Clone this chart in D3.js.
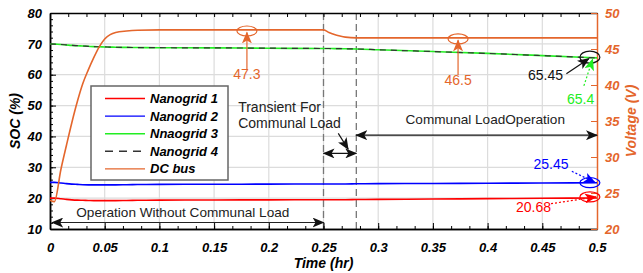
<!DOCTYPE html>
<html lang="en">
<head>
<meta charset="UTF-8">
<title>SOC and DC bus voltage</title>
<script src="https://d3js.org/d3.v7.min.js"></script>
<style>
  body { margin: 0; background: #fff; }
  svg { display: block; font-family: "Liberation Sans", Arial, sans-serif; }
  .tick text { font-weight: bold; font-style: italic; font-size: 13px; }
</style>
</head>
<body>
<svg id="chart" width="643" height="273"></svg>
<script>
// ---- data ----
const timeHr = [0, 0.004, 0.01, 0.015, 0.02, 0.025, 0.03, 0.035, 0.04, 0.045, 0.05, 0.055, 0.06, 0.07,
                0.08, 0.1, 0.15, 0.2, 0.25, 0.255, 0.26, 0.265, 0.27, 0.28, 0.3, 0.35, 0.4, 0.45, 0.5];
const nanogrid1 = [20.0, 20.0, 19.8, 19.6, 19.45, 19.35, 19.3, 19.25, 19.2, 19.2, 19.2, 19.2, 19.2, 19.25,
                   19.3, 19.35, 19.4, 19.45, 19.5, 19.5, 19.5, 19.5, 19.5, 19.55, 19.6, 19.7, 19.85, 19.95, 20.05];
const nanogrid2 = [25.1, 25.1, 24.9, 24.7, 24.55, 24.45, 24.35, 24.3, 24.3, 24.3, 24.3, 24.3, 24.3, 24.35,
                   24.4, 24.45, 24.5, 24.55, 24.6, 24.6, 24.6, 24.6, 24.6, 24.65, 24.7, 24.75, 24.85, 24.9, 25.0];
const nanogrid3 = [70.0, 69.9, 69.8, 69.65, 69.5, 69.4, 69.3, 69.2, 69.1, 69.05, 69.0, 68.95, 68.9, 68.85,
                   68.8, 68.75, 68.7, 68.6, 68.5, 68.5, 68.45, 68.45, 68.4, 68.35, 68.1, 67.5, 66.9, 66.2, 65.45];
const nanogrid4 = nanogrid3.slice();
const dcBus = [24.0, 23.8, 28.3, 31.6, 34.8, 37.7, 40.2, 42.1, 43.8, 45.3, 46.4, 47.0, 47.3, 47.5,
               47.6, 47.65, 47.65, 47.65, 47.65, 47.3, 47.0, 46.8, 46.65, 46.55, 46.55, 46.55, 46.55, 46.55, 46.55];

const xTicks = [0, 0.05, 0.1, 0.15, 0.2, 0.25, 0.3, 0.35, 0.4, 0.45, 0.5];
const socTicks = [10, 20, 30, 40, 50, 60, 70, 80];
const voltTicks = [20, 25, 30, 35, 40, 45, 50];
const eventTimes = [0.25, 0.28];

const orange = "#e4662c";
const series = [
  { name: "Nanogrid 1", values: nanogrid1, color: "#ff0000", dash: null, axis: "soc" },
  { name: "Nanogrid 2", values: nanogrid2, color: "#0000ff", dash: null, axis: "soc" },
  { name: "Nnaogrid 3", values: nanogrid3, color: "#22ee22", dash: null, axis: "soc" },
  { name: "Nanogrid 4", values: nanogrid4, color: "#333333", dash: "6,5", axis: "soc" },
  { name: "DC bus", values: dcBus, color: orange, dash: null, axis: "volt" }
];

// ---- layout ----
const svg = d3.select("#chart");
const m = { left: 50, top: 13, right: 46, bottom: 44 };
const W = 643 - m.left - m.right, H = 273 - m.top - m.bottom;
const g = svg.append("g").attr("transform", `translate(${m.left},${m.top})`);

const x = d3.scaleLinear().domain([0, 0.5]).range([0, W]);
const ySoc = d3.scaleLinear().domain([10, 80]).range([H, 0]);
const yVolt = d3.scaleLinear().domain([20, 50]).range([H, 0]);

// grid
g.append("g").selectAll("line").data(xTicks.slice(1, -1)).join("line")
  .attr("x1", d => x(d)).attr("x2", d => x(d)).attr("y1", 0).attr("y2", H)
  .attr("stroke", "#dcdcdc").attr("stroke-width", 1.2);
g.append("g").selectAll("line").data(socTicks.slice(1, -1)).join("line")
  .attr("y1", d => ySoc(d)).attr("y2", d => ySoc(d)).attr("x1", 0).attr("x2", W)
  .attr("stroke", "#dcdcdc").attr("stroke-width", 1.2);

// event lines
g.append("g").selectAll("line").data(eventTimes).join("line")
  .attr("x1", d => x(d)).attr("x2", d => x(d)).attr("y1", 0).attr("y2", H)
  .attr("stroke", "#777").attr("stroke-width", 1.3).attr("stroke-dasharray", "7,4");

// axes
const minorX = d3.range(0, 0.5001, 0.05 / 3);
const minorSoc = d3.range(10, 80.01, 2);

const bottom = g.append("g").attr("transform", `translate(0,${H})`)
  .call(d3.axisBottom(x).tickValues(xTicks).tickFormat(d3.format("")).tickSizeInner(-6).tickSizeOuter(0));
bottom.selectAll(".tick text").attr("dy", "1.55em");
g.append("g").attr("transform", `translate(0,${H})`)
  .call(d3.axisBottom(x).tickValues(minorX).tickFormat("").tickSizeInner(-3).tickSizeOuter(0));
g.append("g").call(d3.axisTop(x).tickValues(minorX).tickFormat("").tickSizeInner(-4).tickSizeOuter(0));

g.append("g").call(d3.axisLeft(ySoc).tickValues(socTicks).tickSizeInner(-6).tickSizeOuter(0).tickPadding(8));
g.append("g").call(d3.axisLeft(ySoc).tickValues(minorSoc).tickFormat("").tickSizeInner(-3).tickSizeOuter(0));

const right = g.append("g").attr("transform", `translate(${W},0)`)
  .call(d3.axisRight(yVolt).tickValues(voltTicks).tickSizeInner(-6).tickSizeOuter(0).tickPadding(8));
right.select(".domain").attr("stroke", orange).attr("stroke-width", 1.5);
right.selectAll(".tick line").attr("stroke", orange);
right.selectAll(".tick text").attr("fill", orange);

g.selectAll(".domain").filter(function () { return this.getAttribute("stroke") === "currentColor"; })
  .attr("stroke-width", 1.5);

// series
const pts = s => timeHr.map((t, i) => [t, s.values[i]]);
series.forEach(s => {
  const yS = s.axis === "soc" ? ySoc : yVolt;
  g.append("path").datum(pts(s))
    .attr("fill", "none").attr("stroke", s.color).attr("stroke-width", s.dash ? 1.2 : 1.6)
    .attr("stroke-dasharray", s.dash)
    .attr("d", d3.line().x(d => x(d[0])).y(d => yS(d[1])).curve(d3.curveMonotoneX));
});

// axis titles
svg.append("text").attr("transform", `translate(20,${m.top + H / 2}) rotate(-90)`)
  .attr("text-anchor", "middle").attr("font-weight", "bold").attr("font-style", "italic")
  .attr("font-size", 14).text("SOC (%)");
svg.append("text").attr("transform", `translate(636,${m.top + H / 2}) rotate(-90)`)
  .attr("text-anchor", "middle").attr("font-weight", "bold").attr("font-style", "italic")
  .attr("font-size", 14).attr("fill", orange).text("Voltage (V)");
svg.append("text").attr("x", m.left + W / 2).attr("y", 268)
  .attr("text-anchor", "middle").attr("font-weight", "bold").attr("font-style", "italic")
  .attr("font-size", 14).text("Time (hr)");

// arrow markers
const defs = svg.append("defs");
function marker(id, color) {
  defs.append("marker").attr("id", id).attr("viewBox", "0 0 12 10")
    .attr("refX", 11).attr("refY", 5).attr("markerWidth", 12).attr("markerHeight", 10)
    .attr("markerUnits", "userSpaceOnUse").attr("orient", "auto-start-reverse")
    .append("path").attr("d", "M0,0 L12,5 L0,10 L3,5 Z").attr("fill", color);
}
marker("ak", "#111");
marker("ao", orange);
marker("ag", "#22ee22");
marker("ab", "#0000ff");
marker("ar", "#ff0000");

function arrow(x1, y1, x2, y2, color, id, both, dash) {
  g.append("line").attr("x1", x1).attr("y1", y1).attr("x2", x2).attr("y2", y2)
    .attr("stroke", color).attr("stroke-width", 1.2).attr("stroke-dasharray", dash || null)
    .attr("marker-end", `url(#${id})`).attr("marker-start", both ? `url(#${id})` : null);
}
function label(px, py, txt, color, anchor, size) {
  g.append("text").attr("x", px).attr("y", py).attr("text-anchor", anchor || "middle")
    .attr("font-size", size || 14).attr("fill", color).text(txt);
}
function ring(px, py, color, rx, ry) {
  g.append("ellipse").attr("cx", px).attr("cy", py).attr("rx", rx || 10).attr("ry", ry || 5)
    .attr("fill", "none").attr("stroke", color).attr("stroke-width", 1.2);
}

// phase annotations
label(x(0.024), ySoc(13.9), "Operation Without Communal Load", "#222", "start", 13.6);
arrow(x(0.002), ySoc(12.1), x(0.25), ySoc(12.1), "#222", "ak", true);
label(x(0.172), ySoc(47.9), "Transient For", "#222", "start");
label(x(0.172), ySoc(42.7), "Communal Load", "#222", "start");
arrow(x(0.2635), ySoc(41.0), x(0.2725), ySoc(35.9), "#111", "ak", false);
arrow(x(0.25), ySoc(34.5), x(0.28), ySoc(34.5), "#111", "ak", true);
label(x(0.325), ySoc(44.0), "Communal LoadOperation", "#222", "start", 13.6);
arrow(x(0.28), ySoc(40.4), x(0.5), ySoc(40.4), "#111", "ak", true);

// value callouts
const tA = 0.18, tB = 0.373, tEnd = 0.4935;
ring(x(tA), yVolt(47.5), orange);
arrow(x(tA), yVolt(42.1), x(tA), yVolt(47.3), orange, "ao");
label(x(tA), yVolt(40.9), "47.3", orange);
ring(x(tB), yVolt(46.4), orange);
arrow(x(tB), yVolt(41.4), x(tB), yVolt(46.2), orange, "ao");
label(x(tB), yVolt(40.0), "46.5", orange);

ring(x(tEnd), ySoc(65.7), "#111", 10, 6);
arrow(x(0.472), ySoc(60.3), x(0.4925), ySoc(65.2), "#111", "ak");
label(x(0.453), ySoc(58.2), "65.45", "#111");
arrow(x(0.488), ySoc(56.4), x(0.496), ySoc(65.0), "#22ee22", "ag", false, "2,2");
label(x(0.485), ySoc(50.4), "65.4", "#22ee22");

ring(x(tEnd), ySoc(25.0), "#0000ff");
arrow(x(0.477), ySoc(28.7), x(0.498), ySoc(25.1), "#0000ff", "ab", false, "2,2");
label(x(0.458), ySoc(29.6), "25.45", "#0000ff");
ring(x(tEnd), ySoc(20.4), "#ff0000");
arrow(x(0.458), ySoc(18.2), x(0.499), ySoc(20.4), "#ff0000", "ar", false, "2,2");
label(x(0.442), ySoc(15.4), "20.68", "#ff0000");

// legend
const lg = svg.append("g").attr("transform", "translate(91,86)");
lg.append("rect").attr("x", 0).attr("y", 0).attr("width", 137).attr("height", 94)
  .attr("fill", "#fff").attr("stroke", "#666").attr("stroke-width", 1.5);
series.forEach((s, i) => {
  const yy = 12.5 + i * 17.6;
  lg.append("line").attr("x1", 14).attr("x2", 54).attr("y1", yy).attr("y2", yy)
    .attr("stroke", s.color).attr("stroke-width", 1.4).attr("stroke-dasharray", s.dash ? "8,6" : null);
  lg.append("text").attr("x", 59).attr("y", yy + 4.5).attr("font-size", 13)
    .attr("font-weight", "bold").attr("font-style", "italic").text(s.name);
});
</script>
</body>
</html>
